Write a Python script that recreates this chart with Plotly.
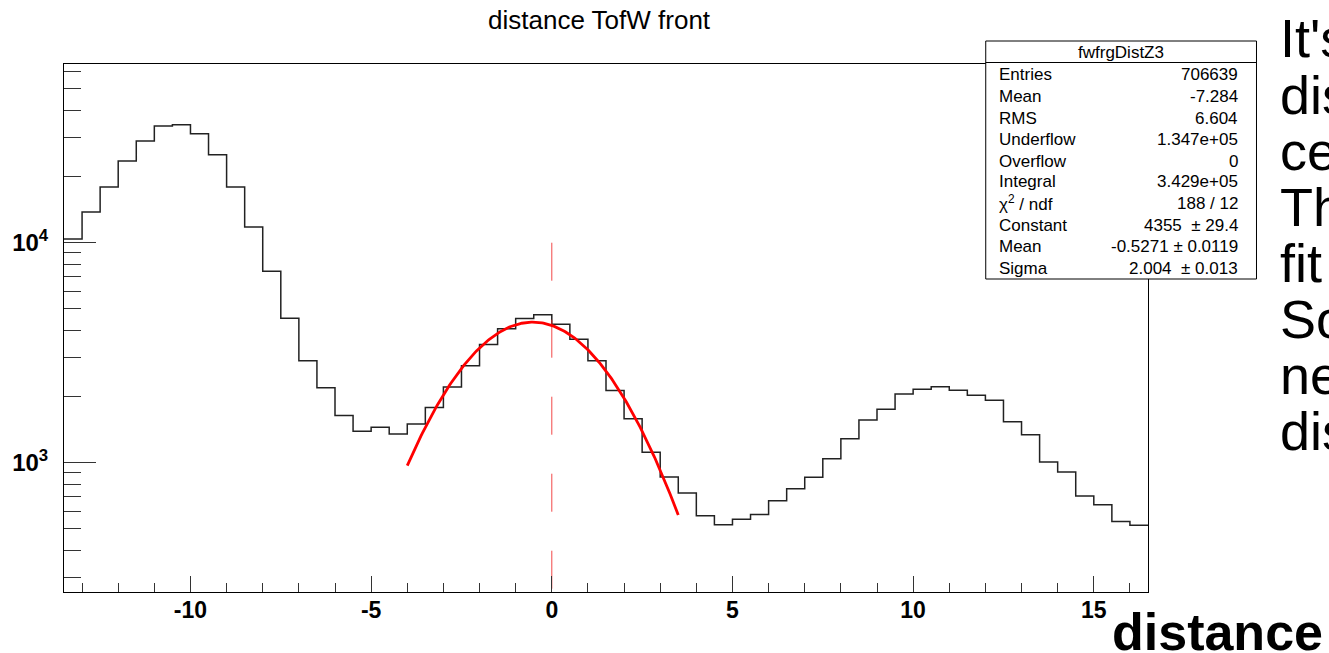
import numpy as np
import plotly.graph_objects as go

# ---------------- data ----------------
title_text = "distance TofW front"
x_min = -13.5
bin_width = 0.5
counts = [10400, 13800, 17900, 23500, 29000, 33900, 34400, 31300, 25100, 17900,
          11800, 7410, 4530, 2910, 2190, 1640, 1390, 1450, 1350, 1500,
          1780, 2210, 2760, 3450, 4060, 4520, 4710, 4260, 3640, 2910,
          2130, 1585, 1115, 861, 728, 574, 522, 553, 582, 671,
          762, 858, 1042, 1285, 1563, 1749, 2052, 2157, 2215, 2133,
          2024, 1922, 1535, 1340, 1007, 907, 706, 644, 540, 519]

fit_constant = 4355.0
fit_mean = -0.5271
fit_sigma = 2.004
fit_range = [-4.0, 3.5]

marker_line_x = 0.0
marker_line_top = 1.0e4

x_tickvals = [-10, -5, 0, 5, 10, 15]
x_ticktext = ["-10", "-5", "0", "5", "10", "15"]
y_tickvals = [1e3, 1e4]
y_ticktext = ["10<sup>3</sup>", "10<sup>4</sup>"]

stats_name = "fwfrgDistZ3"
stats_labels = ["Entries", "Mean", "RMS", "Underflow", "Overflow", "Integral",
                "\u03c7<sup>2</sup> / ndf", "Constant", "Mean", "Sigma"]
stats_values = ["706639", "-7.284", "6.604", "1.347e+05", "0", "3.429e+05",
                "188 / 12", "4355\u00a0 \u00b1 29.4", "-0.5271 \u00b1 0.0119",
                "2.004\u00a0 \u00b1 0.013"]

side_text = ["It's", "dis", "ce", "Th", "fit", "So", "ne", "dis"]
axis_word = "distance"

# ---------------- geometry ----------------
W, H = 1329, 653
L, R, T, B = 59, 1148, 64, 592
x_range = [x_min, x_min + bin_width * len(counts)]
y_log_range = [2.4123, 4.8123]
FONT = "Liberation Sans, Arial, Helvetica, sans-serif"


def px_x(px):
    return (px - L) / (R - L)


def px_y(py):
    return (B - py) / (B - T)


edges = x_min + bin_width * np.arange(len(counts) + 1)
step_y = list(counts) + [counts[-1]]

fit_x = np.linspace(fit_range[0], fit_range[1], 200)
fit_y = fit_constant * np.exp(-0.5 * ((fit_x - fit_mean) / fit_sigma) ** 2)

fig = go.Figure()
fig.add_trace(go.Scatter(x=edges, y=step_y, mode="lines", line_shape="hv",
                         line=dict(color="#222222", width=1.5), hoverinfo="skip",
                         showlegend=False))
fig.add_trace(go.Scatter(x=[marker_line_x, marker_line_x],
                         y=[marker_line_top, 10 ** y_log_range[0]], mode="lines",
                         line=dict(color="rgba(240,40,40,0.85)", width=1, dash="38px,39px"),
                         hoverinfo="skip", showlegend=False))
fig.add_trace(go.Scatter(x=fit_x, y=fit_y, mode="lines",
                         line=dict(color="#ff0000", width=2.8), hoverinfo="skip",
                         showlegend=False))

minor_y = [m * 10 ** e for e in (2, 3, 4) for m in range(2, 10)
           if y_log_range[0] < np.log10(m * 10 ** e) < y_log_range[1]]

fig.update_layout(
    width=W, height=H,
    margin=dict(l=L, r=W - R, t=T, b=H - B, pad=0),
    paper_bgcolor="white", plot_bgcolor="white",
    showlegend=False,
    font=dict(family=FONT, color="black"),
    xaxis=dict(range=x_range, showgrid=False, zeroline=False,
               showline=True, linecolor="black", linewidth=1, mirror=True,
               ticks="inside", tickmode="array", tickvals=x_tickvals,
               ticktext=x_ticktext, ticklen=16,
               tickcolor="#333", tickwidth=1,
               tickfont=dict(family=FONT, size=23, weight="bold", color="black"),
               ticklabelstandoff=-3,
               minor=dict(ticks="inside", dtick=1, tick0=0, ticklen=9,
                          tickcolor="#333", tickwidth=1, showgrid=False)),
    yaxis=dict(type="log", range=y_log_range, showgrid=False, zeroline=False,
               showline=True, linecolor="black", linewidth=1, mirror=True,
               ticks="inside", tickmode="array", tickvals=y_tickvals,
               ticktext=y_ticktext, ticklen=32, tickcolor="#333", tickwidth=1,
               tickfont=dict(family=FONT, size=24, weight="bold", color="black"),
               ticklabelstandoff=10,
               minor=dict(ticks="inside", tickmode="array", tickvals=minor_y,
                          ticklen=17, tickcolor="#333", tickwidth=1, showgrid=False)),
)

# stats box
box_l, box_r, box_t, box_b, box_sep = 985, 1257, 41, 279, 62.5
fig.add_shape(type="rect", xref="paper", yref="paper",
              x0=px_x(box_l), x1=px_x(box_r), y0=px_y(box_b), y1=px_y(box_t),
              fillcolor="white", line=dict(color="black", width=1), layer="above")
fig.add_shape(type="line", xref="paper", yref="paper",
              x0=px_x(box_l), x1=px_x(box_r), y0=px_y(box_sep), y1=px_y(box_sep),
              line=dict(color="black", width=1), layer="above")

ann = []
ann.append(dict(text=title_text, x=px_x(597), y=px_y(20), xanchor="center",
                yanchor="middle", font=dict(size=26, family=FONT, color="black")))
ann.append(dict(text=stats_name, x=px_x((box_l + box_r) / 2), y=px_y(52),
                xanchor="center", yanchor="middle",
                font=dict(size=17, family=FONT, color="black")))
row_y = [74.3, 96.5, 118, 139.3, 161, 181, 203.5, 225.5, 247, 268.3]
for lab, val, ry in zip(stats_labels, stats_values, row_y):
    ann.append(dict(text=lab, x=px_x(997), y=px_y(ry), xanchor="left",
                    yanchor="middle", font=dict(size=17, family=FONT, color="black")))
    ann.append(dict(text=val, x=px_x(1239), y=px_y(ry), xanchor="right",
                    yanchor="middle", font=dict(size=17, family=FONT, color="black")))

side_y = [38, 95, 151, 207, 263, 319, 375, 431]
for t, sy in zip(side_text, side_y):
    ann.append(dict(text=t, x=px_x(1280), y=px_y(sy), xanchor="left",
                    yanchor="middle", font=dict(size=54, family=FONT, color="black")))
ann.append(dict(text=axis_word, x=px_x(1111), y=px_y(632), xanchor="left",
                yanchor="middle",
                font=dict(size=52, family=FONT, color="black", weight="bold")))

for a in ann:
    a.update(xref="paper", yref="paper", showarrow=False, borderpad=0)
fig.update_layout(annotations=ann)

fig.write_html(
    "out.html",
    config={"displayModeBar": False},
    post_script="document.body.style.margin='0';document.body.style.overflow='hidden';",
)
